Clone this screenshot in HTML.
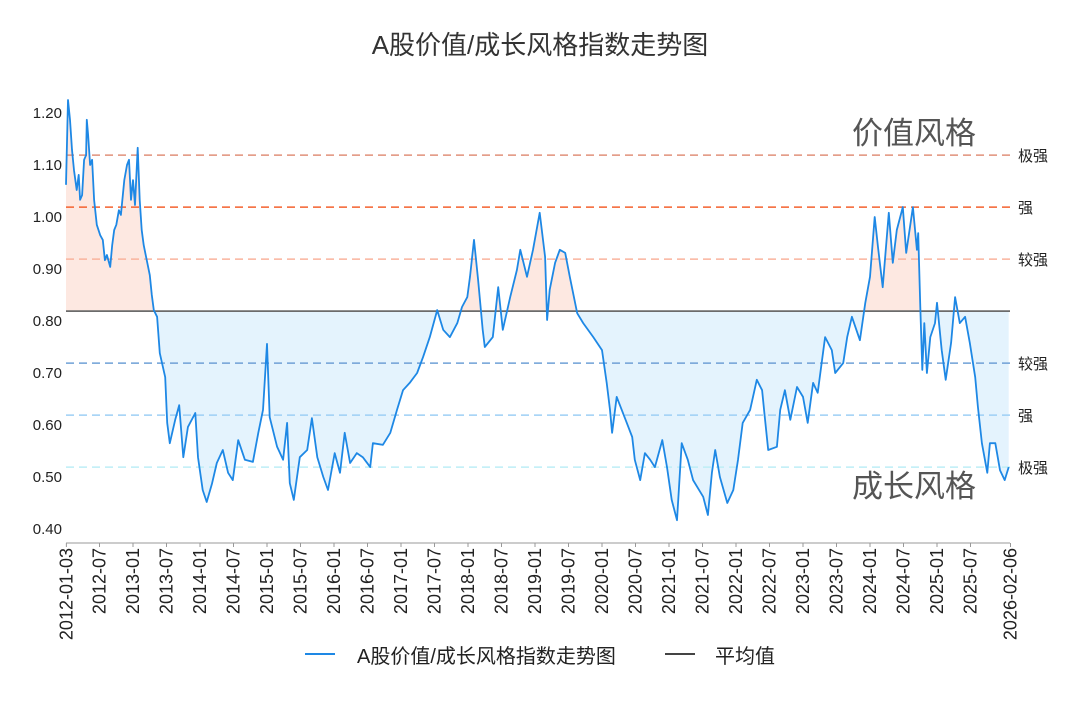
<!DOCTYPE html>
<html><head><meta charset="utf-8">
<style>
html,body{margin:0;padding:0;background:#fff;}
svg{display:block;font-family:"Liberation Sans","Noto Sans CJK SC",sans-serif;}
</style></head>
<body>
<svg id="chart" width="1080" height="705" viewBox="0 0 1080 705">
<text x="540" y="54" text-anchor="middle" font-size="26" fill="#333">A股价值/成长风格指数走势图</text>
<g id="plot"></g>
</svg>
<script>
const years = [2012.00,2012.03,2012.06,2012.09,2012.12,2012.16,2012.19,2012.21,2012.24,2012.27,2012.30,2012.31,2012.33,2012.36,2012.39,2012.42,2012.46,2012.51,2012.55,2012.58,2012.61,2012.66,2012.69,2012.72,2012.75,2012.79,2012.82,2012.87,2012.91,2012.94,2012.97,2013.00,2013.03,2013.07,2013.10,2013.13,2013.16,2013.19,2013.22,2013.25,2013.28,2013.31,2013.36,2013.40,2013.48,2013.51,2013.55,2013.63,2013.69,2013.75,2013.82,2013.93,2013.97,2014.04,2014.10,2014.18,2014.25,2014.34,2014.42,2014.49,2014.57,2014.67,2014.79,2014.87,2014.94,2015.00,2015.04,2015.15,2015.24,2015.30,2015.34,2015.40,2015.49,2015.60,2015.67,2015.75,2015.84,2015.91,2016.01,2016.09,2016.16,2016.24,2016.34,2016.43,2016.54,2016.58,2016.73,2016.84,2016.94,2017.03,2017.13,2017.24,2017.33,2017.43,2017.54,2017.63,2017.73,2017.84,2017.91,2017.99,2018.03,2018.09,2018.15,2018.22,2018.25,2018.37,2018.45,2018.52,2018.63,2018.73,2018.78,2018.88,2018.97,2019.07,2019.15,2019.18,2019.22,2019.30,2019.37,2019.45,2019.52,2019.63,2019.72,2019.87,2020.00,2020.07,2020.12,2020.15,2020.22,2020.37,2020.45,2020.49,2020.57,2020.64,2020.72,2020.79,2020.90,2020.97,2021.04,2021.12,2021.19,2021.28,2021.36,2021.51,2021.58,2021.64,2021.69,2021.76,2021.87,2021.96,2022.03,2022.10,2022.21,2022.31,2022.39,2022.43,2022.48,2022.61,2022.66,2022.73,2022.81,2022.91,2023.00,2023.07,2023.15,2023.22,2023.33,2023.43,2023.48,2023.60,2023.66,2023.73,2023.85,2023.93,2024.00,2024.07,2024.12,2024.19,2024.28,2024.34,2024.40,2024.49,2024.54,2024.64,2024.70,2024.72,2024.75,2024.78,2024.81,2024.85,2024.90,2024.97,2025.00,2025.07,2025.13,2025.21,2025.27,2025.34,2025.42,2025.49,2025.57,2025.61,2025.67,2025.75,2025.79,2025.87,2025.94,2026.01,2026.07];
const values = [1.062,1.225,1.187,1.129,1.090,1.052,1.081,1.033,1.042,1.110,1.119,1.187,1.158,1.100,1.110,1.033,0.985,0.965,0.956,0.917,0.927,0.904,0.946,0.975,0.985,1.013,1.004,1.071,1.100,1.110,1.033,1.071,1.023,1.133,1.033,0.975,0.946,0.927,0.908,0.888,0.850,0.821,0.808,0.738,0.692,0.604,0.565,0.610,0.638,0.538,0.596,0.623,0.538,0.475,0.452,0.488,0.527,0.552,0.508,0.494,0.571,0.533,0.529,0.585,0.629,0.756,0.615,0.558,0.533,0.604,0.488,0.456,0.538,0.552,0.613,0.538,0.500,0.475,0.546,0.508,0.585,0.527,0.546,0.538,0.519,0.565,0.562,0.585,0.629,0.667,0.681,0.700,0.731,0.769,0.821,0.783,0.769,0.796,0.827,0.846,0.885,0.956,0.879,0.783,0.750,0.769,0.865,0.783,0.846,0.898,0.937,0.885,0.937,1.008,0.923,0.802,0.860,0.912,0.937,0.931,0.885,0.815,0.796,0.769,0.744,0.681,0.629,0.585,0.654,0.604,0.577,0.533,0.494,0.546,0.533,0.519,0.571,0.519,0.456,0.417,0.565,0.533,0.494,0.462,0.427,0.508,0.552,0.500,0.450,0.475,0.533,0.604,0.629,0.687,0.667,0.615,0.552,0.558,0.629,0.667,0.610,0.673,0.654,0.604,0.681,0.662,0.769,0.744,0.700,0.719,0.769,0.808,0.763,0.835,0.885,1.000,0.942,0.865,1.008,0.912,0.975,1.019,0.931,1.019,0.937,0.969,0.827,0.706,0.796,0.700,0.769,0.796,0.835,0.744,0.687,0.758,0.846,0.796,0.808,0.758,0.692,0.635,0.565,0.508,0.565,0.565,0.513,0.494,0.519];
const meanValue = 0.819;
const levelOffsets = [0.3,0.2,0.1,-0.1,-0.2,-0.3];
const levelLabels = ["极强","强","较强","较强","强","极强"];
const levelColors = ["#e0907a","#f4622f","#f9b39d","#6fa0d6","#9dcff5","#bdeef6"];
const yTicks = [0.40,0.50,0.60,0.70,0.80,0.90,1.00,1.10,1.20];
const xTickLabels = ["2012-01-03","2012-07","2013-01","2013-07","2014-01","2014-07","2015-01","2015-07","2016-01","2016-07","2017-01","2017-07","2018-01","2018-07","2019-01","2019-07","2020-01","2020-07","2021-01","2021-07","2022-01","2022-07","2023-01","2023-07","2024-01","2024-07","2025-01","2025-07","2026-02-06"];

const NS="http://www.w3.org/2000/svg";
const X0=66,X1=1010,YTOP=113;
function xs(yr){return X0+(yr-2012)*67;}
function ys(v){return YTOP+(1.2-v)*520;}
function tickYear(s){const p=s.split("-");let y=+p[0]+(+p[1]-1)/12;if(p[2])y+=(+p[2]-1)/365;return y;}
function mk(tag,attrs,parent){const e=document.createElementNS(NS,tag);for(const k in attrs)e.setAttribute(k,attrs[k]);(parent||plot).appendChild(e);return e;}
const plot=document.getElementById('plot');
const my=ys(meanValue);

const defs=mk('defs',{});
const c1=mk('clipPath',{id:'above'},defs);mk('rect',{x:0,y:0,width:1080,height:my},c1);
const c2=mk('clipPath',{id:'below'},defs);mk('rect',{x:0,y:my,width:1080,height:705},c2);

let pts=years.map((y,i)=>xs(y).toFixed(1)+','+ys(values[i]).toFixed(1));
const area='M'+xs(years[0])+','+my+' L'+pts.join(' L')+' L'+xs(years[years.length-1])+','+my+' Z';
let a1=mk('path',{d:area,fill:'#fde8e1','clip-path':'url(#above)'});


let a2=mk('path',{d:area,fill:'#e4f3fd','clip-path':'url(#below)'});



levelOffsets.forEach((o,i)=>{
  const y=ys(meanValue+o);
  const l=mk('line',{x1:X0,x2:X1,y1:y,y2:y,stroke:levelColors[i],'stroke-width':1.5,'stroke-dasharray':'8,5'});
  
  
  const t=mk('text',{x:1018,y:y+6,'font-size':15,fill:'#222'});
  t.textContent=levelLabels[i];
  
  
});
const ml=mk('line',{x1:X0,x2:X1,y1:my,y2:my,stroke:'#6b6b6b','stroke-width':1.8});



const sl=mk('polyline',{points:pts.join(' '),fill:'none',stroke:'#1e88e5','stroke-width':1.8,'stroke-linejoin':'round'});



yTicks.forEach(v=>{
  const t=mk('text',{x:62,y:ys(v)+5,'text-anchor':'end','font-size':15,fill:'#222'});
  t.textContent=v.toFixed(2);
  
  
});
const ax=mk('line',{x1:X0,x2:X1,y1:543,y2:543,stroke:'#999','stroke-width':1});


xTickLabels.forEach(s=>{
  const x=xs(tickYear(s));
  const tk=mk('line',{x1:x,x2:x,y1:543,y2:547,stroke:'#999'});
  
  
  const t=mk('text',{x:0,y:0,transform:'translate('+(x+6)+',548) rotate(-90)','text-anchor':'end','font-size':18,fill:'#222'});
  t.textContent=s;
  
  
});
</script>
<div style="position:absolute;left:0;top:0;width:1080px;height:705px;pointer-events:none;font-family:'Liberation Sans','Noto Sans CJK SC',sans-serif;">
  <div style="position:absolute;left:852px;top:114px;font-size:31px;color:#555;line-height:40px;">价值风格</div>
  <div style="position:absolute;left:852px;top:467px;font-size:31px;color:#555;line-height:40px;">成长风格</div>
  <div style="position:absolute;left:305px;top:640px;height:28px;font-size:20px;color:#222;">
    <span style="position:absolute;left:0;top:0;white-space:nowrap;"><span style="position:absolute;left:0;top:13px;width:30px;height:2px;background:#1e88e5;"></span><span style="position:absolute;left:52px;top:0;">A股价值/成长风格指数走势图</span></span>
    <span style="position:absolute;left:360px;top:0;white-space:nowrap;"><span style="position:absolute;left:0;top:13px;width:30px;height:2px;background:#444;"></span><span style="position:absolute;left:50px;top:0;">平均值</span></span>
  </div>
</div>
</body></html>
